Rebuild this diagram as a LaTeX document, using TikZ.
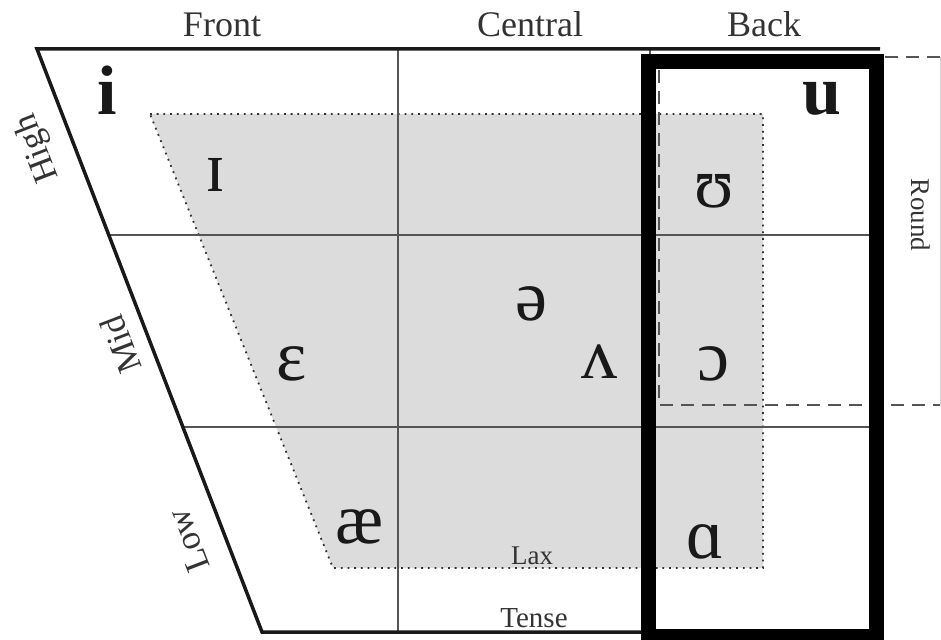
\documentclass[tikz,border=0pt]{standalone}
\usepackage{fontspec}
\setmainfont{Liberation Serif}
\definecolor{laxgray}{HTML}{DCDCDC}
\definecolor{gridgray}{HTML}{555555}
\definecolor{inkgray}{HTML}{333333}
\tikzstyle{every node}=[inner sep=0pt]
\tikzstyle{vowel}=[anchor=base,text=black!90,font=\fontsize{72}{72}\selectfont]
\tikzstyle{tense}=[vowel,font=\fontsize{70}{70}\selectfont\bfseries]
\tikzstyle{axis}=[anchor=base,text=inkgray,font=\fontsize{36}{36}\selectfont]
\tikzstyle{side}=[text=inkgray,font=\fontsize{35}{35}\selectfont,rotate=111]
\tikzstyle{gridline}=[draw=gridgray,line width=1.3pt]
\tikzstyle{frame}=[draw=black!90,line width=3.5pt]
\tikzstyle{laxzone}=[fill=laxgray,draw=black!80,line width=1.8pt,dash pattern=on 1.8pt off 4.9pt]
\tikzstyle{roundzone}=[draw=gridgray,line width=2.5pt,dash pattern=on 13pt off 8pt]

\begin{document}
\begin{tikzpicture}[x=1pt,y=-1pt]
	\useasboundingbox (0,0) rectangle (941,639);
	% lax area
	\draw[laxzone] (150,114) -- (763,114) -- (763,568) -- (333,568) -- cycle;
	% grid
	\coordinate (tl) at (37,49);
	\coordinate (tr) at (880,49);
	\coordinate (bl) at (262,632);
	\coordinate (br) at (880,632);
	\draw[gridline] (109,235) -- (870,235);
	\draw[gridline] (183,427) -- (870,427);
	\draw[gridline] (398,49) -- (398,632);
	\draw[gridline] (650,49) -- (650,632);
	\draw[frame] (tr) -- (tl) -- (bl) -- (br);
	% rounded vowels
	\draw[roundzone] (940,57) -- (659,57) -- (659,405) -- (940,405);
	\draw[gridgray!25,line width=1pt] (940,57) -- (940,405);
	\draw[line width=15pt] (648,62) rectangle (876.5,636);
	% labels
	\node[axis] (front) at (222,37) {Front};
	\node[axis] (central) at (530,37) {Central};
	\node[axis] (back) at (764,37) {Back};
	\node[side] (high) at (38,148) {High};
	\node[side] (mid) at (121,345) {Mid};
	\node[side] (low) at (188,541) {Low};
	\node[text=inkgray,font=\fontsize{27}{27}\selectfont,rotate=-90] (round) at (921,215) {Round};
	\node[axis,font=\fontsize{27}{27}\selectfont] (lax) at (532,564) {Lax};
	\node[axis,font=\fontsize{29}{29}\selectfont] (tensel) at (534,627) {Tense};
	% vowels
	\node[tense] (vi) at (107,115) {i};
	\node[vowel] (vI) at (215,191) {ɪ};
	\node[tense] (vu) at (822,115) {u};
	\node[vowel] (vU) at (714,207) {ʊ};
	\node[vowel] (vschwa) at (531,320) {ə};
	\node[vowel] (veps) at (292,380) {ɛ};
	\node[vowel] (vwedge) at (599,378) {ʌ};
	\node[vowel] (vopen) at (713,380) {ɔ};
	\node[vowel] (vae) at (360,543) {æ};
	\node[vowel] (vscripta) at (705,558) {ɑ};
\end{tikzpicture}
\end{document}
